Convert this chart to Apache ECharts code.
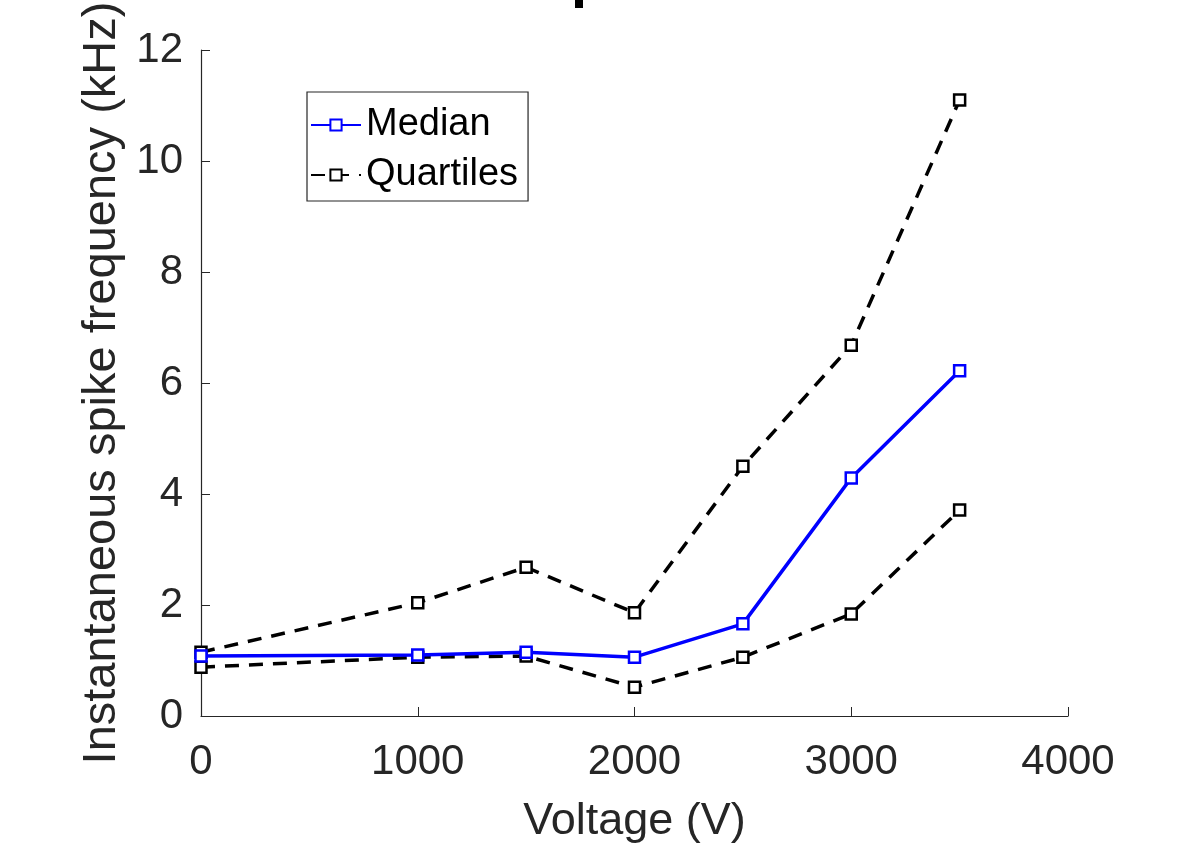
<!DOCTYPE html>
<html>
<head>
<meta charset="utf-8">
<script src="https://cdn.jsdelivr.net/npm/echarts@6/dist/echarts.min.js"></script>
<style>
  html, body { margin: 0; padding: 0; background: #fff; }
  #chart { width: 1197px; height: 846px; }
</style>
</head>
<body>
<div id="chart"></div>
<script>
// ---------------- Data ----------------
let voltage = [0, 1000, 1500, 2000, 2500, 3000, 3500];
let median_freq = [1.08, 1.10, 1.15, 1.06, 1.66, 4.29, 6.22];
let upper_quartile = [1.15, 2.04, 2.68, 1.86, 4.50, 6.68, 11.10];
let lower_quartile = [0.88, 1.06, 1.08, 0.52, 1.06, 1.84, 3.71];
let x_ticks = [0, 1000, 2000, 3000, 4000];
let y_ticks = [0, 2, 4, 6, 8, 10, 12];

function pairs(xs, ys) {
    return xs.map(function (x, i) { return [x, ys[i]]; });
}

let chart = echarts.init(document.getElementById("chart"));

let font = "Liberation Sans, Arial, Helvetica, sans-serif";
let axis_color = "#262626";

let dashed_style = {
    color: "#000",
    width: 3.5,
    type: [14, 10]
};
let marker_black = { color: "#fff", borderColor: "#000", borderWidth: 2.5 };

//-------------------- Axes --------------------
let x_axis = {
    type: "value",
    min: x_ticks[0],
    max: x_ticks[x_ticks.length - 1],
    interval: x_ticks[1] - x_ticks[0],
    name: "Voltage (V)",
    nameLocation: "middle",
    nameGap: 83,
    nameTextStyle: { fontFamily: font, fontSize: 45, color: axis_color, verticalAlign: "top" },
    axisLine: { show: true, lineStyle: { color: axis_color, width: 1.2 } },
    axisTick: { show: true, inside: true, length: 9, lineStyle: { color: axis_color } },
    axisLabel: {
        fontFamily: font, fontSize: 42, color: axis_color, margin: 25,
        formatter: function (v) { return String(v); }
    },
    splitLine: { show: false }
};
let y_axis = {
    type: "value",
    min: y_ticks[0],
    max: y_ticks[y_ticks.length - 1],
    interval: y_ticks[1] - y_ticks[0],
    name: "Instantaneous spike frequency (kHz)",
    nameLocation: "middle",
    nameGap: 74,
    nameTextStyle: { fontFamily: font, fontSize: 47, color: axis_color },
    axisLine: { show: true, lineStyle: { color: axis_color, width: 1.2 } },
    axisTick: { show: true, inside: true, length: 9, lineStyle: { color: axis_color } },
    axisLabel: {
        fontFamily: font, fontSize: 42, color: axis_color, margin: 18,
        formatter: function (v) { return String(v); }
    },
    splitLine: { show: false }
};

let option = {
    backgroundColor: "#fff",
    animation: false,
    grid: { left: 201, right: 129, top: 50, bottom: 130, outerBoundsMode: "none", containLabel: false },
    legend: {
        left: 307,
        top: 92,
        orient: "vertical",
        data: ["Median", "Quartiles"],
        itemWidth: 50,
        itemHeight: 14,
        itemGap: 12,
        padding: [14, 10, 7, 3],
        borderColor: axis_color,
        borderWidth: 1.2,
        backgroundColor: "#fff",
        textStyle: { fontFamily: font, fontSize: 38, color: "#000" }
    },
    xAxis: x_axis,
    yAxis: y_axis,
    series: [
        {
            name: "Quartiles",
            type: "line",
            data: pairs(voltage, upper_quartile),
            symbol: "rect",
            symbolSize: 11,
            showAllSymbol: true,
            lineStyle: dashed_style,
            itemStyle: marker_black,
            z: 2
        },
        {
            name: "Quartiles",
            type: "line",
            data: pairs(voltage, lower_quartile),
            symbol: "rect",
            symbolSize: 11,
            showAllSymbol: true,
            lineStyle: dashed_style,
            itemStyle: marker_black,
            z: 2
        },
        {
            name: "Median",
            type: "line",
            data: pairs(voltage, median_freq),
            symbol: "rect",
            symbolSize: 11,
            showAllSymbol: true,
            lineStyle: { color: "#0000ff", width: 3.5 },
            itemStyle: { color: "#fff", borderColor: "#0000ff", borderWidth: 2.5 },
            z: 3
        }
    ],
    graphic: [
        {
            type: "rect",
            shape: { x: 575, y: 0, width: 8, height: 8 },
            style: { fill: "#000" }
        }
    ]
};

chart.setOption(option);
</script>
</body>
</html>
